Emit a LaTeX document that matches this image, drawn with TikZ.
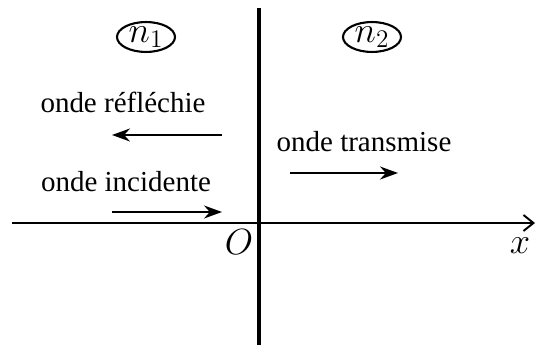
\documentclass[tikz,border=0pt]{standalone}
\usepackage{fontspec}
\setmainfont{Liberation Serif}
\usepackage{tikz}
\usetikzlibrary{shapes.geometric, arrows.meta, positioning}

\begin{document}
\begin{tikzpicture}[
    x=0.02cm, y=-0.02cm,
    font=\fontsize{16.5}{20}\selectfont,
    wave label/.style={anchor=center, inner sep=0pt},
    index node/.style={ellipse, draw, line width=1.2pt, minimum width=1.16cm, minimum height=0.56cm, inner sep=0pt, font=\fontsize{21}{24}\selectfont},
    axis label/.style={font=\fontsize{20}{24}\selectfont},
    arrow/.style={-{Stealth[length=0.36cm,width=0.26cm]},line width=1.1pt},
    axis/.style={-{Straight Barb[length=0.2cm,width=0.32cm]},line width=1.1pt}
]
\useasboundingbox (0,0) rectangle (540,347);

% interface and axis
\coordinate (top) at (259,8);
\coordinate (bottom) at (259,345);
\coordinate (xleft) at (12,223);
\coordinate (xright) at (535,223);
\draw[line width=1.8pt] (top) -- (bottom);
\draw[axis] (xleft) -- (xright);

\node[axis label] (origin) at (239,242) {$O$};
\node[axis label] (xlabel) at (520,246) {$x$};

% media
\node[index node] (n1) at (146,37) {$n_1$};
\node[index node] (n2) at (372,37) {$n_2$};

% waves
\node[wave label] (reflected) at (123,102) {onde réfléchie};
\node[wave label] (incident) at (126,182) {onde incidente};
\node[wave label] (transmitted) at (364,142) {onde transmise};

\coordinate (r1) at (222,135);
\coordinate (r2) at (112,135);
\coordinate (i1) at (112,212);
\coordinate (i2) at (222,212);
\coordinate (t1) at (290,173);
\coordinate (t2) at (398,173);
\draw[arrow] (r1) -- (r2);
\draw[arrow] (i1) -- (i2);
\draw[arrow] (t1) -- (t2);

\end{tikzpicture}
\end{document}
